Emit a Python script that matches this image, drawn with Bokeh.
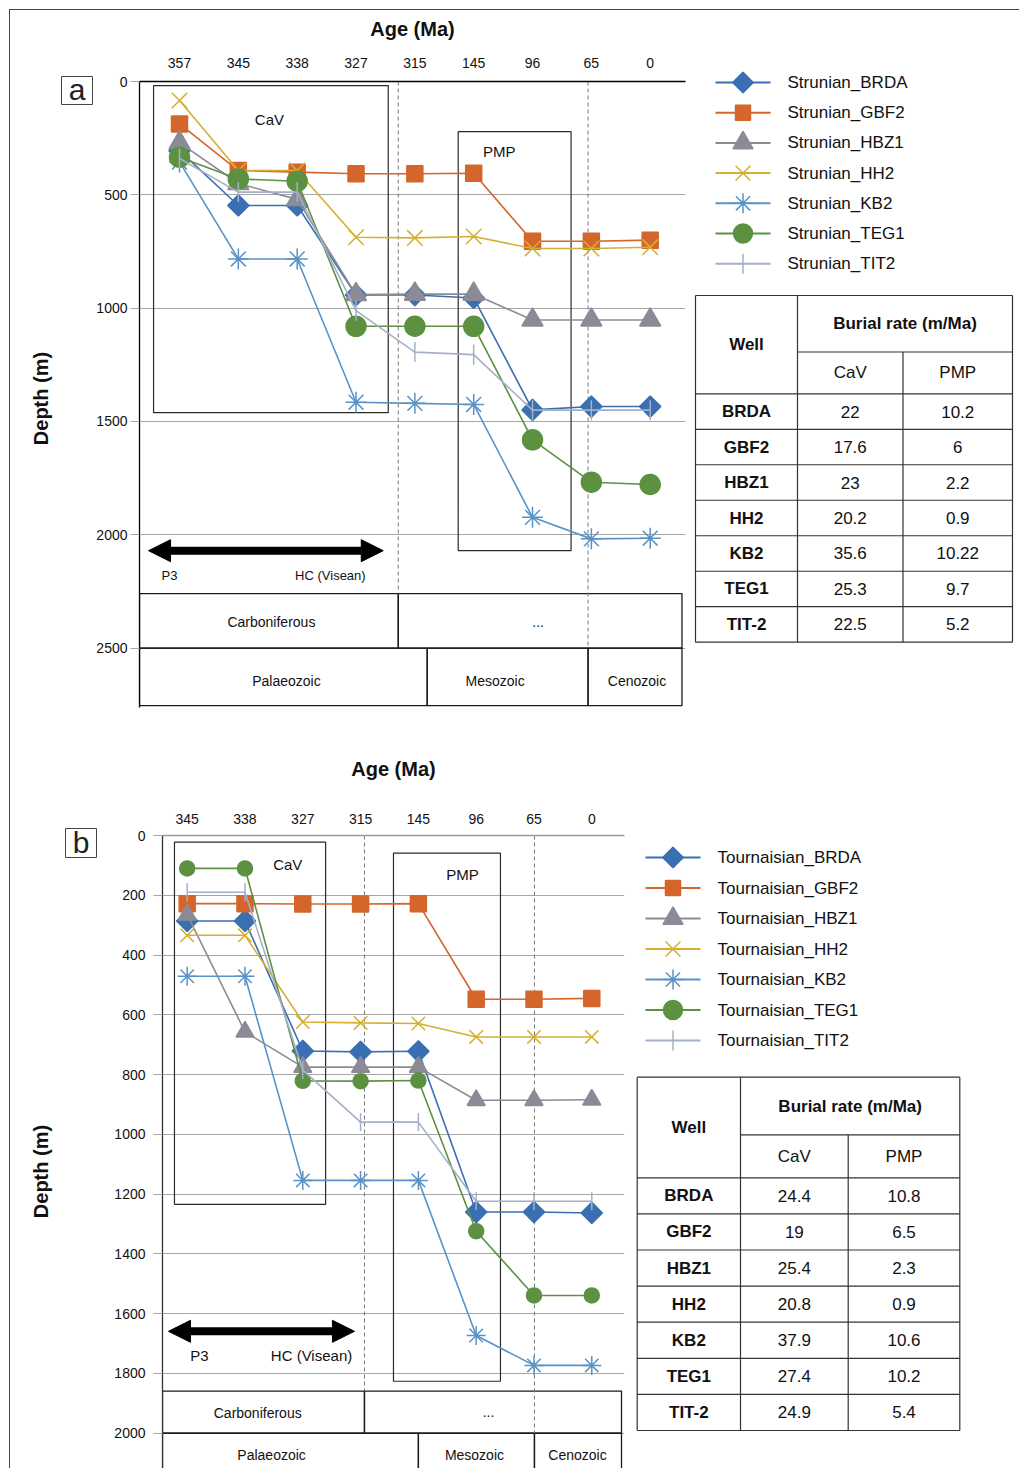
import math
from bokeh.plotting import figure
from bokeh.layouts import row, column
from bokeh.models import (Range1d, FixedTicker, Arrow, NormalHead, ColumnDataSource)
from bokeh.core.properties import value
from bokeh.embed import file_html
from bokeh.resources import INLINE

FONT = "Liberation Sans"
INK = "#111111"

# ------------------------------------------------------------------ data
wells = ["BRDA", "GBF2", "HBZ1", "HH2", "KB2", "TEG1", "TIT2"]
table_wells = ["BRDA", "GBF2", "HBZ1", "HH2", "KB2", "TEG1", "TIT-2"]

# (a) Strunian burial curves, depth (m) at each age (Ma)
ages_a = ["357", "345", "338", "327", "315", "145", "96", "65", "0"]
strunian_brda = [305, 547, 547, 942, 942, 955, 1449, 1434, 1434]
strunian_gbf2 = [187, 393, 400, 407, 407, 405, 705, 705, 700]
strunian_hbz1 = [270, 450, 520, 940, 938, 938, 1052, 1052, 1052]
strunian_hh2 = [84, 393, 393, 687, 690, 684, 737, 737, 731]
strunian_kb2 = [355, 783, 783, 1415, 1420, 1425, 1923, 2018, 2015]
strunian_teg1 = [334, 430, 440, 1080, 1080, 1080, 1581, 1768, 1778]
strunian_tit2 = [340, 488, 488, 1011, 1194, 1205, 1450, 1450, 1450]

# (b) Tournaisian burial curves
ages_b = ["345", "338", "327", "315", "145", "96", "65", "0"]
tournaisian_brda = [286, 286, 721, 724, 722, 1260, 1260, 1263]
tournaisian_gbf2 = [228, 228, 229, 229, 228, 548, 548, 545]
tournaisian_hbz1 = [265, 657, 775, 775, 775, 886, 886, 884]
tournaisian_hh2 = [334, 334, 624, 627, 629, 674, 674, 674]
tournaisian_kb2 = [471, 471, 1154, 1154, 1154, 1673, 1773, 1773]
tournaisian_teg1 = [110, 110, 821, 822, 820, 1324, 1539, 1539]
tournaisian_tit2 = [190, 190, 785, 959, 959, 1224, 1224, 1224]

# burial rates (m/Ma)
cav_a = [22, 17.6, 23, 20.2, 35.6, 25.3, 22.5]
pmp_a = [10.2, 6, 2.2, 0.9, 10.22, 9.7, 5.2]
cav_b = [24.4, 19, 25.4, 20.8, 37.9, 27.4, 24.9]
pmp_b = [10.8, 6.5, 2.3, 0.9, 10.6, 10.2, 5.4]

series_a = dict(zip(wells, [strunian_brda, strunian_gbf2, strunian_hbz1, strunian_hh2,
                            strunian_kb2, strunian_teg1, strunian_tit2]))
series_b = dict(zip(wells, [tournaisian_brda, tournaisian_gbf2, tournaisian_hbz1,
                            tournaisian_hh2, tournaisian_kb2, tournaisian_teg1,
                            tournaisian_tit2]))

# ------------------------------------------------------------------ styles
STYLE = {
    "BRDA": dict(color="#3A6FB1", marker="square", angle=math.pi / 4),
    "GBF2": dict(color="#D4652B", marker="square", angle=0),
    "HBZ1": dict(color="#8B8B97", marker="triangle", angle=0),
    "HH2": dict(color="#D5AF31", marker="x", angle=0),
    "KB2": dict(color="#5893C7", marker="asterisk", angle=0),
    "TEG1": dict(color="#5B9141", marker="circle", angle=0),
    "TIT2": dict(color="#A4B0C9", marker="dash", angle=math.pi / 2),
}
SIZE_A = {"BRDA": 15, "GBF2": 16, "HBZ1": 21, "HH2": 22, "KB2": 21, "TEG1": 20, "TIT2": 20}
SIZE_B = {"BRDA": 15, "GBF2": 16, "HBZ1": 18, "HH2": 19, "KB2": 19, "TEG1": 15, "TIT2": 18}
SIZE_L = {"BRDA": 14.5, "GBF2": 15, "HBZ1": 20, "HH2": 21, "KB2": 20, "TEG1": 19, "TIT2": 20}


def fmt(v):
    return f"{v:g}"


def blank(x0, x1, y0, y1):
    p = figure(width=x1 - x0, height=y1 - y0, x_range=Range1d(x0, x1),
               y_range=Range1d(y1, y0), x_axis_location=None, y_axis_location=None,
               toolbar_location=None, output_backend="svg", min_border=0)
    p.grid.visible = False
    p.outline_line_color = None
    return p


def draw_tag(x0, x1, y0, y1, tag, box, depth_xy):
    p = blank(x0, x1, y0, y1)
    bl, br, bt, bb = box
    p.quad(left=[bl], right=[br], top=[bt], bottom=[bb], fill_color=None,
           line_color="#444444", line_width=1)
    p.text(x=[(bl + br) / 2], y=[(bt + bb) / 2 - 1], text=[tag], text_font=value(FONT),
           text_font_size="30px", text_align="center", text_baseline="middle",
           text_color="#222222")
    p.text(x=[depth_xy[0]], y=[depth_xy[1]], text=["Depth (m)"], angle=math.pi / 2,
           text_font=value(FONT), text_font_size="20px", text_font_style="bold",
           text_align="center", text_baseline="middle", text_color=INK)
    return p


def draw_chart(cfg, ages, series, sizes, ann):
    mb = cfg["mb"]
    p = figure(width=cfg["w"], height=cfg["h"],
               x_range=Range1d(*cfg["xr"]), y_range=Range1d(*cfg["yr"]),
               x_axis_location="above", y_axis_location="left",
               toolbar_location=None, output_backend="svg",
               min_border_left=mb[0], min_border_right=mb[1],
               min_border_top=mb[2], min_border_bottom=mb[3])
    p.outline_line_color = None
    p.xgrid.visible = False

    xa = p.xaxis[0]
    xa.ticker = FixedTicker(ticks=list(range(len(ages))), minor_ticks=[])
    xa.major_label_overrides = {i: a for i, a in enumerate(ages)}
    xa.axis_label = "Age (Ma)"
    xa.axis_label_text_font = FONT
    xa.axis_label_text_font_style = "bold"
    xa.axis_label_text_font_size = "20px"
    xa.axis_label_text_color = INK
    xa.axis_label_standoff = cfg["xls"]
    xa.major_label_text_font = FONT
    xa.major_label_text_font_size = "14px"
    xa.major_label_text_color = INK
    xa.major_label_standoff = cfg["xms"]
    xa.major_tick_out = 0
    xa.major_tick_in = 0
    xa.minor_tick_out = 0
    xa.minor_tick_in = 0
    xa.axis_line_color = cfg["top_color"]
    xa.axis_line_width = 1.3

    ya = p.yaxis[0]
    ya.ticker = FixedTicker(ticks=cfg["yticks"], minor_ticks=[])
    ya.major_label_text_font = FONT
    ya.major_label_text_font_size = "14px"
    ya.major_label_text_color = INK
    ya.major_label_standoff = cfg["yms"]
    ya.major_tick_out = 9
    ya.major_tick_in = 0
    ya.major_tick_line_color = "#a6a6a6"
    ya.major_tick_line_width = 1.2
    ya.minor_tick_out = 0
    ya.minor_tick_in = 0
    ya.axis_line_color = cfg["left_color"]
    ya.axis_line_width = 1.3

    g = p.ygrid[0]
    g.ticker = ya.ticker
    g.grid_line_color = "#a6a6a6"
    g.grid_line_width = 1.2

    # stratigraphic boxes below the curves
    L, R = ann["left"], ann["right"]
    r1t, r1b = ann["row1"]
    r2t, r2b = ann["row2"]
    d1 = ann["row1_div"]
    d2a, d2b = ann["row2_divs"]
    p.quad(left=[L, d1, L, d2a, d2b], right=[d1, R, d2a, d2b, R],
           top=[r1t, r1t, r2t, r2t, r2t], bottom=[r1b, r1b, r2b, r2b, r2b],
           fill_color=None, line_color="#1a1a1a", line_width=1.3)
    # CaV / PMP windows
    cb, pb = ann["cav_box"], ann["pmp_box"]
    p.quad(left=[cb[0], pb[0]], right=[cb[1], pb[1]], top=[cb[2], pb[2]],
           bottom=[cb[3], pb[3]], fill_color=None, line_color="#2a2a2a", line_width=1.2)
    # dashed boundaries
    dsh = ann["dashed"]
    p.segment(x0=[d[0] for d in dsh], y0=[d[1] for d in dsh],
              x1=[d[0] for d in dsh], y1=[d[2] for d in dsh],
              line_color="#777777", line_width=1, line_dash="4 3")
    # window labels
    p.text(x=[ann["cav_txt"][0], ann["pmp_txt"][0]], y=[ann["cav_txt"][1], ann["pmp_txt"][1]],
           text=["CaV", "PMP"], text_font=value(FONT), text_font_size="15px",
           text_align="center", text_baseline="middle", text_color=INK)
    # strat names
    rt = ann["row1_txt"] + ann["row2_txt"]
    p.text(x=[t[0] for t in rt], y=[t[1] for t in rt], text=[t[2] for t in rt],
           text_font=value(FONT), text_font_size="14px",
           text_align="center", text_baseline="middle", text_color=INK)
    # P3 / HC arrow
    ax0, ax1, ay = ann["arrow"]
    p.add_layout(Arrow(start=NormalHead(size=22, fill_color="black", line_color="black"),
                       end=NormalHead(size=22, fill_color="black", line_color="black"),
                       x_start=ax0, y_start=ay, x_end=ax1, y_end=ay,
                       line_width=8, line_color="black"))
    p.text(x=[ann["p3"][0], ann["hc"][0]], y=[ann["p3"][1], ann["hc"][1]],
           text=["P3", "HC (Visean)"], text_font=value(FONT),
           text_font_size=ann["arrow_font"], text_align="center",
           text_baseline="middle", text_color=INK)

    # burial curves
    xs = list(range(len(ages)))
    for name in wells:
        st = STYLE[name]
        src = ColumnDataSource(dict(x=xs, y=series[name]))
        p.line("x", "y", source=src, line_color=st["color"], line_width=1.6)
        p.scatter("x", "y", source=src, marker=st["marker"], size=sizes[name],
                  angle=st["angle"], fill_color=st["color"], line_color=st["color"],
                  line_width=1.5)
    return p


def draw_side(x0, x1, y0, y1, prefix, leg, tbl, cav, pmp):
    p = blank(x0, x1, y0, y1)

    lx0, lx1, lxm, ltx, ly0, ldy = leg
    ys = [ly0 + k * ldy for k in range(len(wells))]
    for k, name in enumerate(wells):
        st = STYLE[name]
        p.line([lx0, lx1], [ys[k], ys[k]], line_color=st["color"], line_width=2)
        p.scatter([lxm], [ys[k]], marker=st["marker"], size=SIZE_L[name], angle=st["angle"],
                  fill_color=st["color"], line_color=st["color"], line_width=1.5)
    p.text(x=[ltx] * len(wells), y=ys, text=[prefix + n for n in wells],
           text_font=value(FONT), text_font_size="17px", text_align="left",
           text_baseline="middle", text_color=INK)

    L, R, C1, C2, T, S, H, B = tbl
    n = len(table_wells)
    rh = (B - H) / n
    hys = [T, S, H] + [H + rh * k for k in range(1, n)] + [B]
    hx0 = [L, C1, L] + [L] * (n - 1) + [L]
    p.segment(x0=hx0, y0=hys, x1=[R] * len(hys), y1=hys, line_color="#333333", line_width=1.2)
    p.segment(x0=[L, R, C1, C2], y0=[T, T, T, S], x1=[L, R, C1, C2], y1=[B, B, B, B],
              line_color="#333333", line_width=1.2)

    wx, cx, px = (L + C1) / 2, (C1 + C2) / 2, (C2 + R) / 2
    rows_y = [H + rh * (k + 0.5) for k in range(n)]
    p.text(x=[wx, (C1 + R) / 2] + [wx] * n,
           y=[(T + H) / 2, (T + S) / 2] + rows_y,
           text=["Well", "Burial rate (m/Ma)"] + table_wells,
           text_font=value(FONT), text_font_size="17px", text_font_style="bold",
           text_align="center", text_baseline="middle", text_color=INK)
    p.text(x=[cx, px] + [cx] * n + [px] * n,
           y=[(S + H) / 2] * 2 + rows_y + rows_y,
           text=["CaV", "PMP"] + [fmt(v) for v in cav] + [fmt(v) for v in pmp],
           text_font=value(FONT), text_font_size="17px",
           text_align="center", text_baseline="middle", text_color=INK)
    return p


cfg_a = dict(w=595, h=730, mb=(45, 3, 71, 33), xr=(-0.68, 8.6), yr=(2762, 0),
             yticks=[0, 500, 1000, 1500, 2000, 2500], top_color="#000000",
             left_color="#000000", xls=15, xms=14, yms=3)
ann_a = dict(
    left=-0.68, right=8.54, row1=(2259.5, 2500), row1_div=3.718,
    row2=(2500, 2754), row2_divs=(4.21, 6.944),
    cav_box=(-0.441, 3.548, 18, 1461), cav_txt=(1.528, 168),
    pmp_box=(4.737, 6.655, 221, 2070), pmp_txt=(5.433, 309),
    dashed=[(3.718, 0, 2259.5), (6.944, 0, 2500)],
    row1_txt=[(1.562, 2383, "Carboniferous"), (6.095, 2383, "...")],
    row2_txt=[(1.817, 2643, "Palaeozoic"), (5.365, 2643, "Mesozoic"), (7.776, 2643, "Cenozoic")],
    arrow=(-0.526, 3.463, 2070), p3=(-0.17, 2180), hc=(2.564, 2180), arrow_font="13px",
)

cfg_b = dict(w=530, h=728, mb=(62, 6, 95, 0), xr=(-0.427, 7.566), yr=(2118, 0),
             yticks=list(range(0, 2001, 200)), top_color="#9a9a9a",
             left_color="#333333", xls=31, xms=12, yms=8)
ann_b = dict(
    left=-0.427, right=7.514, row1=(1859, 2000), row1_div=3.067,
    row2=(2000, 2300), row2_divs=(4.0, 6.008),
    cav_box=(-0.22, 2.395, 22, 1234), cav_txt=(1.74, 96),
    pmp_box=(3.569, 5.42, 59, 1826), pmp_txt=(4.763, 132),
    dashed=[(3.067, 0, 1859), (6.008, 0, 2000)],
    row1_txt=[(1.22, 1933, "Carboniferous"), (5.213, 1930, "...")],
    row2_txt=[(1.46, 2074, "Palaeozoic"), (4.97, 2074, "Mesozoic"), (6.753, 2074, "Cenozoic")],
    arrow=(-0.324, 2.894, 1659), p3=(0.213, 1740), hc=(2.151, 1740), arrow_font="15px",
)

tag_a = draw_tag(10, 93, 10, 740, "a", (61, 92, 76, 104), (40, 398))
fa = draw_chart(cfg_a, ages_a, series_a, SIZE_A, ann_a)
sa = draw_side(688, 1019, 10, 740, "Strunian_",
               (715, 770, 742.5, 787, 82, 30.2),
               (695, 1012, 797, 902.5, 295, 351.5, 393.3, 641.7), cav_a, pmp_a)

tag_b = draw_tag(10, 100, 740, 1468, "b", (65, 96, 828, 857), (40, 1171))
fb = draw_chart(cfg_b, ages_b, series_b, SIZE_B, ann_b)
sb = draw_side(630, 1019, 740, 1468, "Tournaisian_",
               (645, 700, 672.5, 717, 857, 30.5),
               (636.7, 959.3, 740, 847.7, 1076.7, 1134.3, 1177.3, 1430), cav_b, pmp_b)

for f in (tag_a, fa, sa, tag_b, fb, sb):
    if "frame_align" in f.properties():
        f.frame_align = False

layout = column(row(tag_a, fa, sa), row(tag_b, fb, sb), margin=(9, 0, 0, 9),
                styles={"border-left": "1px solid #444444", "border-top": "1px solid #444444"})

open("out.html", "w").write(file_html(layout, INLINE))
